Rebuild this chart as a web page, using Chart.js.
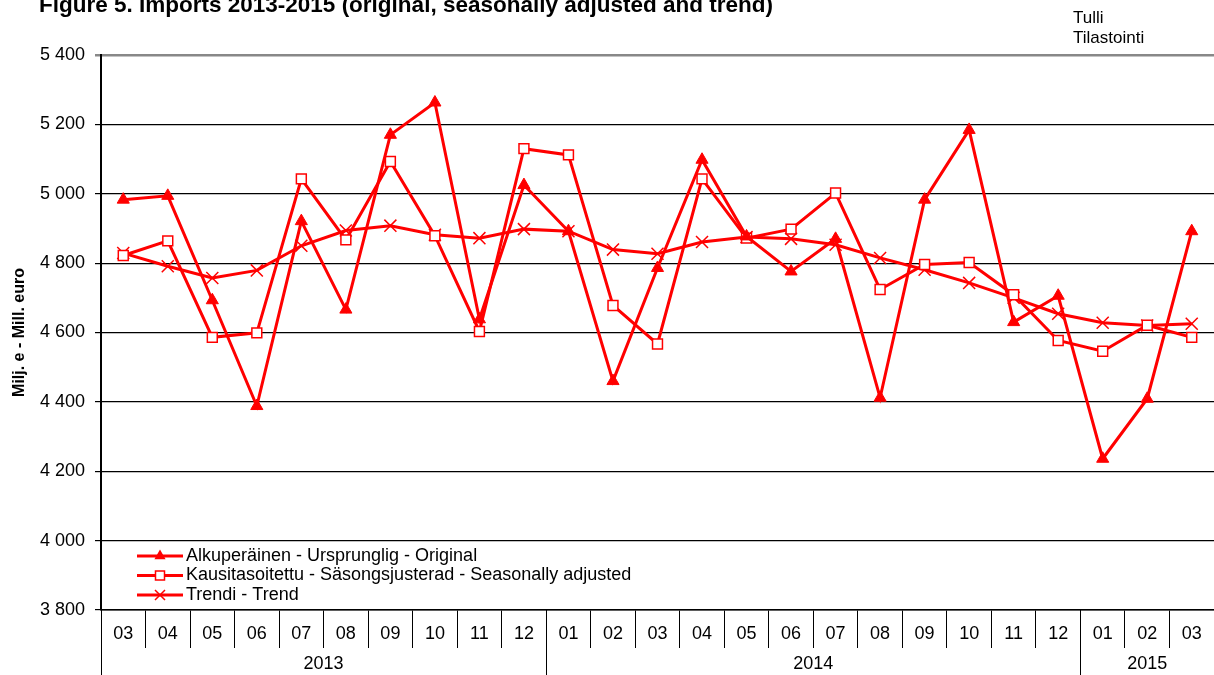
<!DOCTYPE html>
<html>
<head>
<meta charset="utf-8">
<script src="https://cdn.jsdelivr.net/npm/chart.js@4"></script>
<style>
body { margin: 0; background: #fff; }
#wrap { width: 1214px; height: 675px; position: relative; }
</style>
</head>
<body>
<div id="wrap"><canvas id="tuonti"></canvas></div>
<script>
// kuukaudet ja vuodet
var kuukaudet = ['03','04','05','06','07','08','09','10','11','12','01','02','03','04','05','06','07','08','09','10','11','12','01','02','03'];
var vuodet = ['2013', '2014', '2015'];
var vuosiKuukausia = [10, 12, 3];

// milj. euroa
var alkuperainen = [4983, 4994, 4693, 4388, 4921, 4666, 5170, 5263, 4638, 5025, 4892, 4460, 4786, 5098, 4877, 4776, 4870, 4412, 4983, 5184, 4630, 4706, 4236, 4409, 4892];
var kausitasoitettu = [4822, 4864, 4586, 4599, 5043, 4867, 5093, 4879, 4603, 5130, 5112, 4678, 4567, 5043, 4872, 4898, 5002, 4724, 4796, 4802, 4709, 4577, 4546, 4621, 4586];
var trendi = [4829, 4791, 4757, 4779, 4850, 4894, 4908, 4882, 4872, 4898, 4892, 4839, 4827, 4861, 4875, 4870, 4853, 4815, 4781, 4743, 4700, 4654, 4628, 4620, 4625];

var yTicks = [3800, 4000, 4200, 4400, 4600, 4800, 5000, 5200, 5400];

var otsikko = 'Figure 5. Imports 2013-2015 (original, seasonally adjusted and trend)';
var lahde = ['Tulli', 'Tilastointi'];
var selitteet = ['Alkuperäinen - Ursprunglig - Original', 'Kausitasoitettu - Säsongsjusterad - Seasonally adjusted', 'Trendi - Trend'];

var punainen = '#ff0000';
var fontti = 'Arial, "Liberation Sans", sans-serif';

function luku(v) {
	var s = String(v);
	return s.length > 3 ? s.slice(0, s.length - 3) + ' ' + s.slice(s.length - 3) : s;
}

function merkki(ctx, tyyppi, x, y) {
	ctx.save();
	ctx.strokeStyle = punainen;
	ctx.fillStyle = punainen;
	ctx.lineWidth = 1.5;
	ctx.beginPath();
	if (tyyppi == 'triangle') {
		ctx.moveTo(x, y - 6.5);
		ctx.lineTo(x + 5.6, y + 3.3);
		ctx.lineTo(x - 5.6, y + 3.3);
		ctx.closePath();
		ctx.fill();
	} else if (tyyppi == 'rect') {
		ctx.fillStyle = '#fff';
		ctx.rect(x - 4.5, y - 4.5, 9, 9);
		ctx.fill();
		ctx.stroke();
	} else {
		ctx.moveTo(x - 5, y - 5); ctx.lineTo(x + 5, y + 5);
		ctx.moveTo(x + 5, y - 5); ctx.lineTo(x - 5, y + 5);
		ctx.stroke();
	}
	ctx.restore();
}

var tekstit = {
	id: 'tekstit',
	afterDraw: function (chart) {
		var ctx = chart.ctx;
		var xs = chart.scales.x;
		var area = chart.chartArea;
		ctx.save();
		ctx.fillStyle = '#000';

		// otsikko, yläreuna leikattu
		ctx.font = 'bold 22.5px ' + fontti;
		ctx.textAlign = 'left';
		ctx.textBaseline = 'alphabetic';
		ctx.fillText(otsikko, 39, 12);

		ctx.font = '17px ' + fontti;
		ctx.fillText(lahde[0], 1073, 23);
		ctx.fillText(lahde[1], 1073, 43);

		// selitteet kuva-alueen sisällä
		var tyypit = ['triangle', 'rect', 'crossRot'];
		ctx.font = '18px ' + fontti;
		ctx.textBaseline = 'middle';
		for (var i = 0; i < selitteet.length; i++) {
			var ly = 556 + i * 19.5;
			ctx.strokeStyle = punainen;
			ctx.lineWidth = 3;
			ctx.beginPath();
			ctx.moveTo(137, ly);
			ctx.lineTo(183, ly);
			ctx.stroke();
			merkki(ctx, tyypit[i], 160, ly);
			ctx.fillStyle = '#000';
			ctx.fillText(selitteet[i], 186, ly);
		}

		// vuosirivi
		ctx.strokeStyle = '#000';
		ctx.lineWidth = 1;
		ctx.textAlign = 'center';
		var alku = 0;
		var vasen = area.left;
		ctx.beginPath();
		ctx.moveTo(Math.round(vasen) + 0.5, area.bottom);
		ctx.lineTo(Math.round(vasen) + 0.5, 675);
		ctx.stroke();
		for (var j = 0; j < vuodet.length; j++) {
			var loppu = alku + vuosiKuukausia[j] - 1;
			var oikea = loppu < kuukaudet.length - 1 ? (xs.getPixelForValue(loppu) + xs.getPixelForValue(loppu + 1)) / 2 : area.right;
			ctx.fillText(vuodet[j], (vasen + oikea) / 2, 664);
			if (loppu < kuukaudet.length - 1) {
				ctx.beginPath();
				ctx.moveTo(Math.round(oikea) + 0.5, area.bottom);
				ctx.lineTo(Math.round(oikea) + 0.5, 675);
				ctx.stroke();
			}
			vasen = oikea;
			alku = loppu + 1;
		}
		ctx.restore();
	}
};

new Chart(document.getElementById('tuonti'), {
	type: 'line',
	data: {
		labels: kuukaudet,
		datasets: [{
			label: selitteet[0],
			data: alkuperainen,
			borderColor: punainen,
			backgroundColor: punainen,
			borderWidth: 3,
			pointStyle: 'triangle',
			pointRadius: 7,
			pointBorderWidth: 1,
			pointBorderColor: punainen,
			pointBackgroundColor: punainen,
			tension: 0
		}, {
			label: selitteet[1],
			data: kausitasoitettu,
			borderColor: punainen,
			backgroundColor: '#fff',
			borderWidth: 3,
			pointStyle: 'rect',
			pointRadius: 7,
			pointBorderWidth: 1.5,
			pointBorderColor: punainen,
			pointBackgroundColor: '#fff',
			tension: 0
		}, {
			label: selitteet[2],
			data: trendi,
			borderColor: punainen,
			backgroundColor: punainen,
			borderWidth: 3,
			pointStyle: 'crossRot',
			pointRadius: 8.5,
			pointBorderWidth: 1.5,
			pointBorderColor: punainen,
			tension: 0
		}]
	},
	options: {
		responsive: true,
		maintainAspectRatio: false,
		animation: false,
		layout: { autoPadding: false, padding: { top: 55, right: 0, bottom: 0, left: 0 } },
		plugins: {
			legend: { display: false },
			tooltip: { enabled: false }
		},
		scales: {
			x: {
				offset: true,
				afterFit: function (scale) {
					scale.height = 65;
					scale.paddingLeft = 0;
					scale.paddingRight = 0;
				},
				grid: {
					offset: true,
					drawOnChartArea: false,
					drawTicks: true,
					tickLength: 38,
					color: '#000',
					lineWidth: 1
				},
				border: { display: true, color: '#000', width: 1.5 },
				ticks: {
					autoSkip: false,
					maxRotation: 0,
					padding: -25,
					color: '#000',
					font: { family: fontti, size: 18 }
				}
			},
			y: {
				min: 3800,
				max: 5400,
				afterFit: function (scale) { scale.width = 101; },
				afterBuildTicks: function (scale) {
					scale.ticks = yTicks.map(function (v) { return { value: v }; });
				},
				grid: {
					color: function (c) { return c.tick && c.tick.value == 5400 ? '#888' : '#000'; },
					lineWidth: function (c) { return c.tick && c.tick.value == 5400 ? 2.5 : 1.2; },
					tickLength: 6
				},
				border: { display: true, color: '#000', width: 2 },
				title: {
					display: true,
					text: 'Milj. e - Mill. euro',
					color: '#000',
					font: { family: fontti, size: 16, weight: 'bold' },
					padding: { top: 10, bottom: 0 }
				},
				ticks: {
					padding: 10,
					color: '#000',
					font: { family: fontti, size: 18 },
					callback: function (v) { return luku(v); }
				}
			}
		}
	},
	plugins: [tekstit]
});
</script>
</body>
</html>
